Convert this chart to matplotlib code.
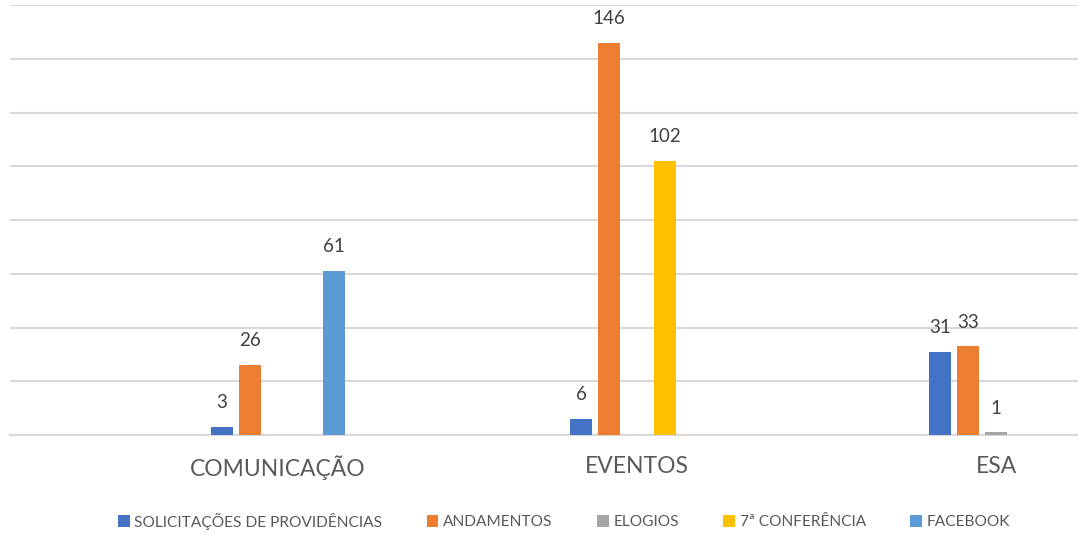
import numpy as np
import matplotlib.pyplot as plt

plt.rcParams['font.family'] = ['Lato', 'DejaVu Sans']

# data
categories = ['COMUNICAÇÃO', 'EVENTOS', 'ESA']
series_names = ['SOLICITAÇÕES DE PROVIDÊNCIAS', 'ANDAMENTOS', 'ELOGIOS',
                '7ª CONFERÊNCIA', 'FACEBOOK']
solicitacoes = [3, 6, 31]
andamentos = [26, 146, 33]
elogios = [np.nan, np.nan, 1]
conferencia = [np.nan, 102, np.nan]
facebook = [61, np.nan, np.nan]

series = [solicitacoes, andamentos, elogios, conferencia, facebook]
colors = ['#4472C4', '#ED7D31', '#A5A5A5', '#FFC000', '#5B9BD5']

fig = plt.figure(figsize=(10.78, 5.35), dpi=100)
ax = fig.add_axes([10 / 1078, 1 - 435 / 535, 1 - 10 / 1078, (435 - 5.3) / 535])

x = np.arange(len(categories))
step = 0.078
width = 0.061
for i, (vals, name, c) in enumerate(zip(series, series_names, colors)):
    pos = x + (i - 2) * step
    vals = np.array(vals, dtype=float)
    ax.bar(pos, vals, width, color=c, label=name, zorder=3)
    for px, v in zip(pos, vals):
        if not np.isnan(v):
            ax.annotate(f"{int(v)}", (px, v), xytext=(0, 13.5), textcoords='offset points',
                        ha='center', va='baseline', fontsize=13.5, color='#404040')

# axes formatting
ax.set_ylim(0, 160)
ax.set_yticks(np.arange(0, 161, 20))
ax.set_xlim(-0.746, 2.228)
ax.yaxis.grid(True, color='#D9D9D9', linewidth=1.5, zorder=0)
ax.tick_params(axis='y', left=False, labelleft=False)
ax.tick_params(axis='x', length=0, pad=15, labelsize=16.5, labelcolor='#595959')
ax.set_xticks(x)
ax.set_xticklabels(categories)
for s in ['top', 'right', 'left']:
    ax.spines[s].set_visible(False)
ax.spines['bottom'].set_color('#D9D9D9')
ax.spines['bottom'].set_linewidth(1.5)

fig.legend(loc='center', bbox_to_anchor=(564 / 1078, 1 - 521 / 535), ncol=5,
           frameon=False, fontsize=11.2, handlelength=0.75, handleheight=0.75,
           handletextpad=0.3, columnspacing=2.85, labelcolor='#595959')

plt.savefig('out.png', dpi=100)
